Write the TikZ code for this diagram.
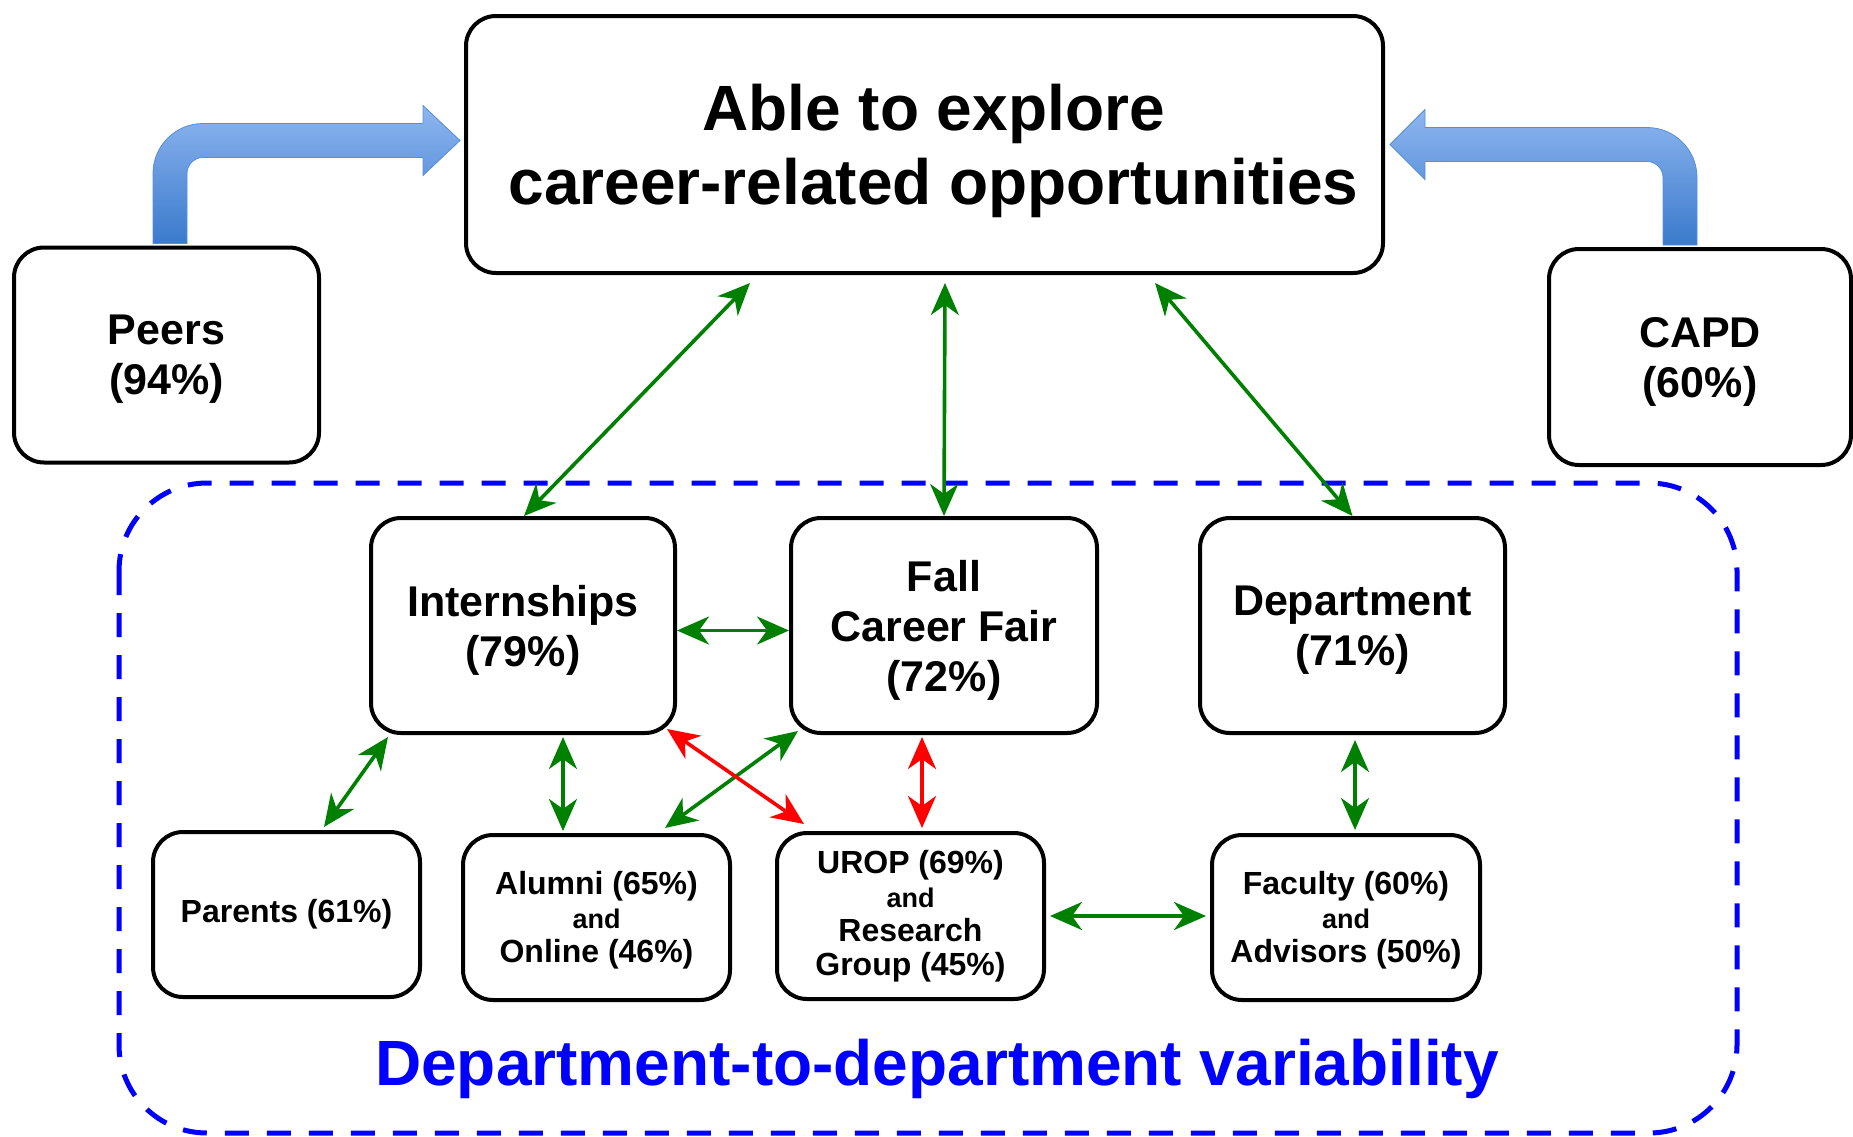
\documentclass[tikz,border=0pt]{standalone}
\usepackage{fontspec}
\setmainfont{Liberation Sans}
\usetikzlibrary{arrows.meta, calc, positioning}
\definecolor{linkgreen}{RGB}{0,128,0}
\definecolor{linkred}{RGB}{255,0,0}
\definecolor{bandblue}{RGB}{0,0,255}
\definecolor{flowtop}{RGB}{142,182,240}
\definecolor{flowbot}{RGB}{58,122,204}

\tikzset{
  box/.style={draw, line width=4pt, rounded corners=30pt, align=center, inner sep=0pt},
  bigtext/.style={font=\fontsize{43}{50}\selectfont\bfseries, text depth=-3pt},
  smalltext/.style={font=\fontsize{32}{34}\selectfont\bfseries},
  link/.style={line width=3.6pt, {Stealth[length=32pt,width=28pt,inset=10pt]}-{Stealth[length=32pt,width=28pt,inset=10pt]}},
  glink/.style={link, draw=linkgreen},
  rlink/.style={link, draw=linkred},
  flow/.style={top color=flowtop, bottom color=flowbot, draw=flowbot!85, line width=0.8pt}
}
\newcommand{\andtext}{{\fontsize{27}{34}\selectfont and}}

\begin{document}
\begin{tikzpicture}[x=1pt, y=-1pt]
  \useasboundingbox (0,0) rectangle (1853,1136);

  \draw[bandblue, line width=5pt, dash pattern=on 24pt off 18pt, rounded corners=88pt] (119,483) rectangle (1737,1133);
  \node[text=bandblue, font=\fontsize{64}{70}\selectfont\bfseries, anchor=base] (band) at (937,1085) {Department-to-department variability};

  \node[box, font=\fontsize{64}{74}\selectfont\bfseries, text depth=1pt, minimum width=917pt, minimum height=257pt] (explore) at (924.5,144.5) {\hspace*{18pt}Able to explore\\\hspace*{18pt}career-related opportunities};
  \node[box, bigtext, minimum width=305pt, minimum height=215pt] (peers) at (166.5,355) {Peers\\(94\%)};
  \node[box, bigtext, minimum width=302pt, minimum height=216pt] (capd) at (1700,357) {CAPD\\(60\%)};

  \node[box, bigtext, minimum width=304pt, minimum height=215pt] (intern) at (523,625.5) {Internships\\(79\%)};
  \node[box, bigtext, minimum width=306pt, minimum height=215pt] (fair) at (944,625.5) {Fall\\Career Fair\\(72\%)};
  \node[box, bigtext, minimum width=305pt, minimum height=215pt] (dept) at (1352.5,625.5) {Department\\(71\%)};

  \node[box, smalltext, minimum width=267pt, minimum height=165pt] (parents) at (286.5,914.5) {Parents (61\%)};
  \node[box, smalltext, text depth=1pt, minimum width=267pt, minimum height=165pt] (alumni) at (596.5,917.5) {Alumni (65\%)\\\andtext\\Online (46\%)};
  \node[box, smalltext, minimum width=267pt, minimum height=166pt] (urop) at (910.5,916) {UROP (69\%)\\\andtext\\Research\\Group (45\%)};
  \node[box, smalltext, text depth=1pt, minimum width=268pt, minimum height=165pt] (faculty) at (1346,917.5) {Faculty (60\%)\\\andtext\\Advisors (50\%)};

  \path[flow] let \p1=(peers.north), \p2=(explore.west) in
    (\x1-13.5pt,\y1+2pt) -- (\x1-13.5pt,\y2-29pt) arc[start angle=180, end angle=90, radius=50pt]
    -- (\x2-41pt,\y2+21pt) -- (\x2-41pt,\y2+39pt) -- (\x2-4pt,\y2+4pt) -- (\x2-41pt,\y2-31pt)
    -- (\x2-41pt,\y2-13pt) -- (\x1+36.5pt,\y2-13pt) arc[start angle=90, end angle=180, radius=16pt]
    -- (\x1+20.5pt,\y1+2pt) -- cycle;
  \path[flow] let \p1=(capd.north), \p2=(explore.east) in
    (\x1-3pt,\y1+2pt) -- (\x1-3pt,\y2-33pt) arc[start angle=0, end angle=90, radius=50pt]
    -- (\x2+40pt,\y2+17pt) -- (\x2+40pt,\y2+35pt) -- (\x2+5pt,\y2) -- (\x2+40pt,\y2-35pt)
    -- (\x2+40pt,\y2-17pt) -- (\x1-53pt,\y2-17pt) arc[start angle=90, end angle=0, radius=16pt]
    -- (\x1-37pt,\y1+2pt) -- cycle;

  \draw[glink] ([xshift=-174.5pt,yshift=-8pt]explore.south) -- ([xshift=1pt]intern.north);
  \draw[glink] ([xshift=20.5pt,yshift=-8pt]explore.south) -- (fair.north);
  \draw[glink] ([xshift=230.5pt,yshift=-8pt]explore.south) -- (dept.north);
  \draw[glink] ([yshift=-5pt]intern.east) -- ([yshift=-5pt]fair.west);
  \draw[glink] ([xshift=-135pt,yshift=-2pt]intern.south) -- ([xshift=37.5pt,yshift=3pt]parents.north);
  \draw[glink] ([xshift=40pt,yshift=-2pt]intern.south) -- ([xshift=-33.5pt,yshift=2pt]alumni.north);
  \draw[glink] ([xshift=9pt,yshift=4pt]fair.south west) -- ([xshift=68.5pt,yshift=5pt]alumni.north);
  \draw[rlink] ([xshift=-10pt,yshift=6pt]intern.south east) -- ([xshift=29pt,yshift=7pt]urop.north west);
  \draw[rlink] ([xshift=-22pt,yshift=-2pt]fair.south) -- ([xshift=11.5pt,yshift=3pt]urop.north);
  \draw[glink] ([xshift=2.5pt,yshift=-5pt]dept.south) -- ([xshift=9pt,yshift=3pt]faculty.north);
  \draw[glink] ([xshift=4pt]urop.east) -- ([xshift=-4pt,yshift=1.5pt]faculty.west);
\end{tikzpicture}
\end{document}
